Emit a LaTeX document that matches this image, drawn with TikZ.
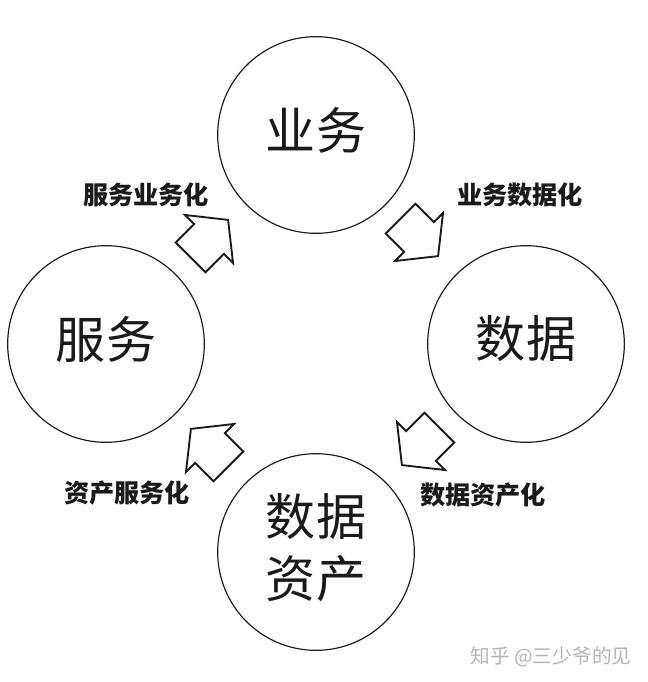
\documentclass[tikz,border=0pt]{standalone}
\usepackage{fontspec}
\usepackage{tikz}
\newfontfamily\cjk{Noto Sans CJK SC}
\definecolor{ink}{HTML}{1A1A1A}
\definecolor{muted}{HTML}{B4B4B4}
\tikzset{
  stage/.style={circle, draw=ink, line width=1pt, minimum size=5.9cm, inner sep=0pt},
  word/.style={align=center, inner sep=0pt, text=ink, font=\cjk\fontsize{42.7}{53}\selectfont},
  turn/.pic={\draw[draw=ink, line width=1.6pt, line join=miter]
               (-26,-21) -- (0,-21) -- (0,-34) -- (27,0) -- (0,34) -- (0,21) -- (-26,21) -- cycle;},
  tag/.style={font=\cjk\bfseries\fontsize{21.5}{24}\selectfont, text=ink, inner sep=0pt},
  credit/.style={font=\cjk\fontsize{16.8}{18}\selectfont, text=muted, inner sep=0pt}
}
\begin{document}
\begin{tikzpicture}[x=0.03cm, y=-0.03cm]
\useasboundingbox (0,0) rectangle (647,682);
% the four stages
\node[stage] (biz) at (316,135) {};
\node[stage] (data) at (526,344) {};
\node[stage] (asset) at (316,552) {};
\node[stage] (svc) at (106,344) {};
\node[word] (biz-t) at ([yshift=0.15cm]biz.center) {业务};
\node[word] (data-t) at ([yshift=0.15cm]data.center) {数据};
\node[word] (asset-t) at ([yshift=0.12cm]asset.center) {数据\\资产};
\node[word] (svc-t) at ([yshift=0.15cm]svc.center) {服务};
% transitions between stages
\pic[rotate=45] (a1) at (209,239) {turn};
\pic[rotate=-45] (a2) at (419,237) {turn};
\pic[rotate=-135] (a3) at (421,446) {turn};
\pic[rotate=135] (a4) at (210,448) {turn};
% labels
\node[tag] (l1) at (146,195) {服务业务化};
\node[tag] (l2) at (520,195) {业务数据化};
\node[tag] (l3) at (483,495) {数据资产化};
\node[tag] (l4) at (127,493) {资产服务化};
\node[credit] (wm) at (551,657) {知乎 @三少爷的见};
\end{tikzpicture}
\end{document}
